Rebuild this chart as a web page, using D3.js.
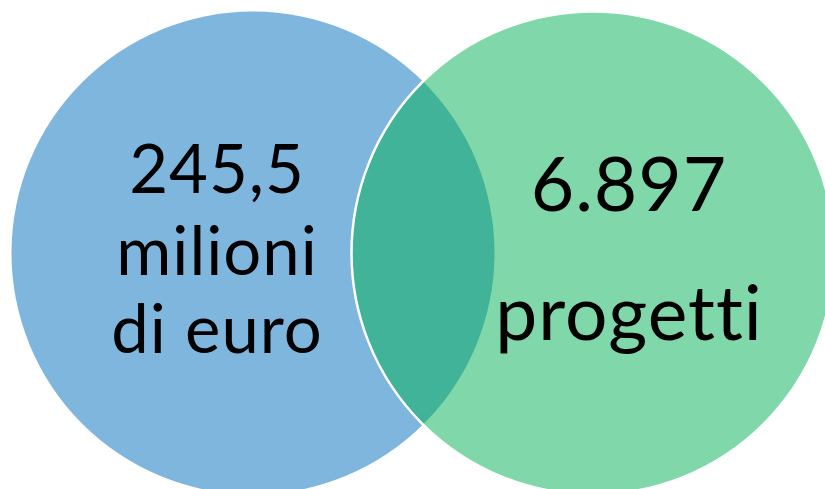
<!DOCTYPE html>
<html>
<head>
<meta charset="utf-8">
<script src="https://cdn.jsdelivr.net/npm/d3@7"></script>
<style>
  html, body { margin: 0; padding: 0; background: #fff; }
  svg { display: block; }
  text { font-variant-ligatures: none; font-feature-settings: "liga" 0, "clig" 0; }
</style>
</head>
<body>
<svg width="825" height="489"></svg>
<script>
// Venn sets: centre and radius in chart units
const setNames = ["importo", "progetti"];
const setX = [253, 593];
const setY = [253, 253];
const setR = [241.5, 241.5];
const setColors = ["#7FB6DE", "#80D7A9"];
const overlapColor = "#40B399";

// labels (lines) for each set
const labelLines = [
  ["245,5", "milioni", "di euro"],
  ["6.897", "progetti"]
];
const labelX = [217, 629];
const labelBaselines = [[193, 275, 353], [211, 340]];
const labelSizes = [67, 75];

const svg = d3.select("svg");
const width = +svg.attr("width"), height = +svg.attr("height");

// identity-like scales from chart units to pixels
const x = d3.scaleLinear().domain([0, 825]).range([0, width]);
const y = d3.scaleLinear().domain([0, 489]).range([0, height]);

const sets = setNames.map((name, i) => ({
  name, cx: setX[i], cy: setY[i], r: setR[i], color: setColors[i]
}));

const defs = svg.append("defs");
defs.append("clipPath")
    .attr("id", "clip-first")
  .append("circle")
    .attr("cx", x(sets[0].cx))
    .attr("cy", y(sets[0].cy))
    .attr("r", x(sets[0].r) - x(0));

// filled circles
svg.append("g")
  .selectAll("circle")
  .data(sets)
  .join("circle")
    .attr("cx", d => x(d.cx))
    .attr("cy", d => y(d.cy))
    .attr("r", d => x(d.r) - x(0))
    .attr("fill", d => d.color);

// overlap: second circle clipped by the first
svg.append("circle")
    .attr("cx", x(sets[1].cx))
    .attr("cy", y(sets[1].cy))
    .attr("r", x(sets[1].r) - x(0))
    .attr("fill", overlapColor)
    .attr("clip-path", "url(#clip-first)");

// white outline of the second circle
svg.append("circle")
    .attr("cx", x(sets[1].cx))
    .attr("cy", y(sets[1].cy))
    .attr("r", x(sets[1].r) - x(0))
    .attr("fill", "none")
    .attr("stroke", "#fff")
    .attr("stroke-width", 2.5);

// labels
labelLines.forEach((lines, i) => {
  svg.append("text")
      .attr("text-anchor", "middle")
      .attr("font-family", "Lato, 'Noto Sans', sans-serif")
      .attr("font-size", labelSizes[i])
      .attr("letter-spacing", 1)
      .attr("fill", "#000")
    .selectAll("tspan")
    .data(lines)
    .join("tspan")
      .attr("x", x(labelX[i]))
      .attr("y", (d, j) => y(labelBaselines[i][j]))
      .text(d => d);
});
</script>
</body>
</html>
